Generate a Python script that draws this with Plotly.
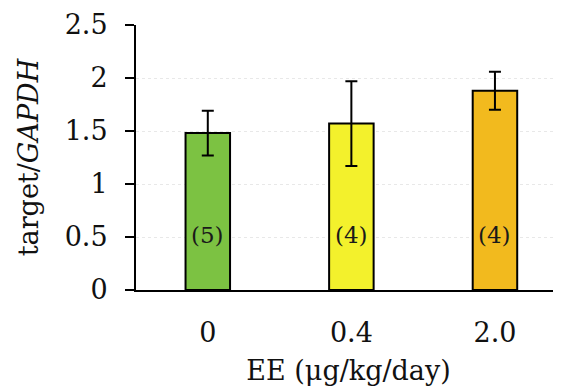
import plotly.graph_objects as go

categories = ["0", "0.4", "2.0"]
values = [1.48, 1.57, 1.88]
errors = [0.21, 0.40, 0.18]
n_labels = ["(5)", "(4)", "(4)"]
colors = ["#7cc242", "#f3f12c", "#f2ba1e"]
y_ticks = [0, 0.5, 1, 1.5, 2, 2.5]
y_ticktext = ["0", "0.5", "1", "1.5", "2", "2.5"]

font_family = "DejaVu Serif"

fig = go.Figure()
fig.add_trace(go.Bar(
    x=categories, y=values,
    marker=dict(color=colors, line=dict(color="black", width=2)),
    width=0.31,
    error_y=dict(type="data", array=errors, visible=True, color="black", thickness=2, width=6),
    showlegend=False,
))

for i, lab in enumerate(n_labels):
    fig.add_annotation(x=i, y=0.52, xref="x", yref="y", text=lab, showarrow=False,
                       font=dict(family=font_family, size=23, color="#1a1a1a"))

fig.update_layout(
    width=553, height=380,
    margin=dict(l=128, r=0, t=17, b=98, autoexpand=False),
    paper_bgcolor="white", plot_bgcolor="white",
    font=dict(family=font_family, color="#111"),
    xaxis=dict(
        type="category", range=[-0.5, 2.46], automargin=False,
        showline=True, linecolor="black", linewidth=2,
        ticks="", tickfont=dict(size=27, family=font_family),
        ticklabelstandoff=18,
        title=dict(text="EE (μg/kg/day)", font=dict(size=27, family=font_family), standoff=14),
        showgrid=False, zeroline=False,
    ),
    yaxis=dict(
        range=[0, 2.5], tickvals=y_ticks, ticktext=y_ticktext, automargin=False,
        showline=True, linecolor="black", linewidth=2,
        ticks="outside", ticklen=9, tickwidth=2, tickcolor="black",
        tickfont=dict(size=27, family=font_family),
        ticklabelstandoff=12,
        showgrid=True, gridcolor="#e8e8e8", griddash="dot", gridwidth=1,
        zeroline=False,
        title=dict(text="target/<i>GAPDH</i>", font=dict(size=27, family=font_family), standoff=18),
    ),
)

fig.write_html("out.html")
